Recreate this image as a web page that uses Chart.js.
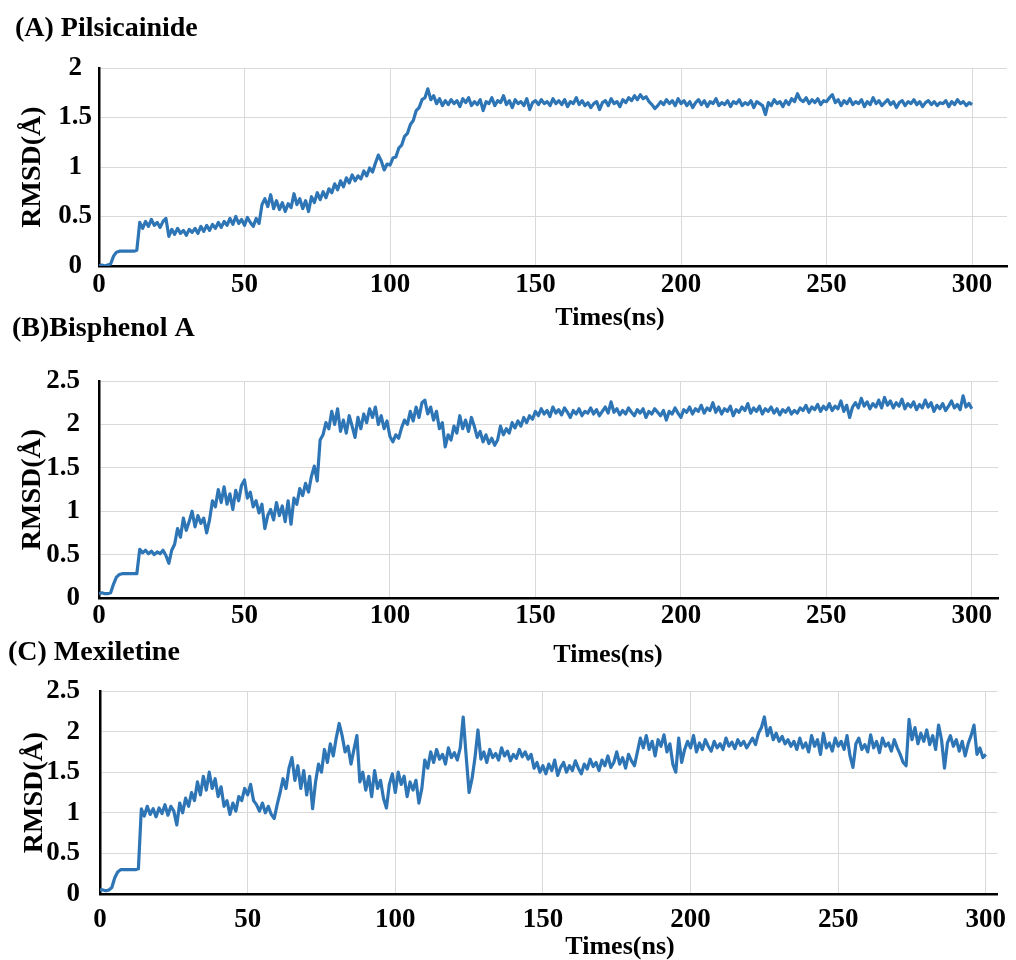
<!DOCTYPE html>
<html><head><meta charset="utf-8">
<script src="https://cdn.jsdelivr.net/npm/chart.js@4"></script>
<style>
html,body{margin:0;padding:0;background:#fff;width:1016px;height:960px;overflow:hidden;}
#wrap{position:relative;width:1016px;height:960px;background:#fff;}
canvas{position:absolute;left:0;}
</style></head><body>
<div id="wrap">
<canvas id="cA" width="1016" height="340" style="top:0px"></canvas>
<canvas id="cB" width="1016" height="390" style="top:290px"></canvas>
<canvas id="cC" width="1016" height="350" style="top:615px"></canvas>
</div>
<script>
// ---- data (time in ns, RMSD in Å) ----
const times = Array.from({length: 301}, (_, i) => i);
const xTickValues = [0, 50, 100, 150, 200, 250, 300];
const yTickValuesA = [0, 0.5, 1, 1.5, 2];
const yTickValuesBC = [0, 0.5, 1, 1.5, 2, 2.5];
const panelTitles = ['(A) Pilsicainide', '(B)Bisphenol A', '(C) Mexiletine'];
const xAxisTitle = 'Times(ns)';
const yAxisTitle = 'RMSD(Å)';

const rmsdA = [
0.00,0.01,0.00,0.01,0.02,0.10,0.14,0.15,0.15,0.15,
0.15,0.15,0.15,0.16,0.44,0.38,0.45,0.40,0.47,0.41,
0.44,0.39,0.45,0.48,0.30,0.37,0.32,0.38,0.33,0.36,
0.31,0.37,0.34,0.38,0.33,0.40,0.35,0.41,0.36,0.42,
0.38,0.44,0.39,0.45,0.41,0.48,0.42,0.50,0.43,0.47,
0.41,0.49,0.44,0.40,0.48,0.43,0.62,0.68,0.60,0.72,
0.58,0.66,0.57,0.64,0.55,0.63,0.59,0.73,0.62,0.68,
0.58,0.66,0.55,0.70,0.64,0.74,0.67,0.75,0.69,0.78,
0.74,0.83,0.77,0.86,0.80,0.89,0.84,0.92,0.86,0.91,
0.88,0.96,0.91,0.99,0.95,1.04,1.12,1.06,0.97,1.03,
1.02,1.09,1.10,1.19,1.22,1.31,1.34,1.43,1.47,1.57,
1.60,1.68,1.70,1.79,1.68,1.72,1.64,1.69,1.62,1.67,
1.63,1.68,1.64,1.67,1.61,1.69,1.65,1.70,1.62,1.66,
1.63,1.68,1.57,1.66,1.64,1.70,1.62,1.67,1.65,1.72,
1.63,1.67,1.60,1.68,1.64,1.66,1.62,1.69,1.58,1.65,
1.67,1.63,1.68,1.64,1.66,1.62,1.69,1.64,1.67,1.63,
1.68,1.61,1.66,1.64,1.70,1.63,1.67,1.62,1.65,1.60,
1.64,1.66,1.58,1.65,1.67,1.62,1.69,1.64,1.66,1.61,
1.68,1.65,1.70,1.67,1.72,1.68,1.73,1.69,1.71,1.66,
1.63,1.59,1.62,1.66,1.63,1.68,1.64,1.67,1.62,1.69,
1.64,1.67,1.62,1.66,1.60,1.65,1.68,1.63,1.67,1.61,
1.66,1.64,1.69,1.62,1.65,1.63,1.67,1.61,1.66,1.64,
1.68,1.62,1.65,1.63,1.67,1.60,1.66,1.64,1.62,1.53,
1.65,1.62,1.68,1.64,1.66,1.61,1.67,1.63,1.69,1.66,
1.74,1.68,1.66,1.70,1.64,1.68,1.65,1.69,1.63,1.67,
1.66,1.70,1.73,1.65,1.68,1.62,1.67,1.64,1.69,1.63,
1.66,1.64,1.68,1.61,1.66,1.63,1.70,1.64,1.67,1.62,
1.65,1.68,1.63,1.66,1.60,1.65,1.67,1.62,1.66,1.64,
1.68,1.63,1.66,1.61,1.65,1.67,1.63,1.66,1.62,1.65,
1.64,1.67,1.61,1.66,1.63,1.68,1.64,1.66,1.62,1.65,
1.63];

const rmsdB = [
0.05,0.06,0.05,0.05,0.06,0.16,0.24,0.27,0.28,0.28,
0.28,0.28,0.28,0.28,0.56,0.52,0.55,0.51,0.54,0.50,
0.53,0.51,0.55,0.49,0.40,0.55,0.62,0.80,0.70,0.92,
0.78,0.88,1.00,0.82,0.95,0.86,0.92,0.75,0.90,1.12,
1.05,1.25,1.10,1.28,1.08,1.20,1.02,1.24,1.12,1.30,
1.36,1.15,1.22,1.05,1.12,0.98,1.08,0.80,0.95,1.02,
0.90,1.10,0.95,1.06,0.88,1.12,0.85,1.15,1.08,1.26,
1.18,1.32,1.22,1.40,1.52,1.35,1.82,1.88,2.02,1.95,
2.15,2.00,2.18,1.92,2.05,1.90,2.10,1.98,1.85,2.08,
1.95,2.12,2.02,2.18,2.08,2.20,2.00,2.10,1.95,2.04,
1.86,1.80,1.88,1.84,1.96,2.05,2.00,2.15,2.04,2.20,
2.08,2.25,2.28,2.12,2.20,2.05,2.15,1.95,2.02,1.74,
1.88,1.82,1.98,1.90,2.10,1.95,2.05,1.92,2.08,1.98,
1.85,1.92,1.80,1.88,1.78,1.84,1.76,1.82,1.98,1.88,
1.95,1.90,2.02,1.96,2.04,1.98,2.08,2.02,2.10,2.06,
2.15,2.10,2.18,2.12,2.16,2.09,2.20,2.13,2.17,2.11,
2.19,2.14,2.08,2.16,2.12,2.18,2.10,2.15,2.13,2.19,
2.12,2.17,2.10,2.15,2.20,2.13,2.26,2.14,2.18,2.11,
2.16,2.12,2.19,2.14,2.10,2.17,2.13,2.18,2.08,2.15,
2.12,2.18,2.14,2.10,2.16,2.05,2.15,2.12,2.19,2.13,
2.08,2.17,2.14,2.20,2.12,2.18,2.15,2.22,2.13,2.19,
2.16,2.25,2.14,2.20,2.12,2.18,2.15,2.21,2.10,2.17,
2.14,2.20,2.16,2.24,2.13,2.19,2.15,2.21,2.12,2.18,
2.15,2.20,2.13,2.18,2.11,2.17,2.14,2.19,2.12,2.16,
2.13,2.19,2.16,2.22,2.14,2.20,2.17,2.23,2.15,2.21,
2.17,2.24,2.16,2.21,2.18,2.27,2.15,2.22,2.08,2.20,
2.25,2.19,2.30,2.21,2.26,2.18,2.24,2.20,2.28,2.19,
2.31,2.22,2.27,2.19,2.25,2.21,2.29,2.18,2.24,2.20,
2.26,2.17,2.23,2.19,2.28,2.20,2.25,2.15,2.22,2.18,
2.24,2.16,2.21,2.27,2.19,2.23,2.17,2.33,2.20,2.24,
2.18];

const rmsdC = [
0.05,0.05,0.04,0.05,0.08,0.20,0.27,0.30,0.30,0.30,
0.30,0.30,0.30,0.31,1.05,0.96,1.08,0.98,1.05,0.95,
1.06,0.99,1.10,0.97,1.08,1.02,0.85,1.12,1.00,1.18,
1.08,1.25,1.15,1.38,1.22,1.45,1.28,1.50,1.30,1.42,
1.20,1.32,1.08,1.15,0.98,1.12,1.02,1.20,1.15,1.30,
1.22,1.35,1.15,1.10,1.02,1.12,1.00,1.08,0.98,0.93,
1.10,1.25,1.42,1.30,1.55,1.68,1.40,1.58,1.30,1.52,
1.22,1.45,1.05,1.38,1.60,1.50,1.78,1.62,1.85,1.70,
1.92,2.10,1.95,1.75,1.82,1.60,1.78,1.95,1.38,1.50,
1.28,1.45,1.20,1.52,1.30,1.40,1.18,1.06,1.35,1.48,
1.25,1.50,1.35,1.45,1.20,1.38,1.28,1.40,1.12,1.30,
1.65,1.55,1.75,1.62,1.78,1.66,1.72,1.60,1.80,1.68,
1.74,1.65,1.80,2.18,1.70,1.25,1.42,1.68,2.02,1.66,
1.75,1.62,1.78,1.68,1.73,1.65,1.80,1.70,1.76,1.64,
1.72,1.67,1.78,1.69,1.75,1.66,1.72,1.55,1.62,1.50,
1.58,1.48,1.60,1.52,1.65,1.46,1.56,1.62,1.50,1.58,
1.52,1.64,1.55,1.48,1.60,1.54,1.66,1.57,1.62,1.52,
1.65,1.58,1.70,1.56,1.62,1.75,1.60,1.68,1.55,1.72,
1.64,1.58,1.75,1.92,1.80,1.95,1.78,1.88,1.70,1.90,
1.82,1.96,1.75,1.85,1.60,1.50,1.92,1.62,1.78,1.88,
1.80,1.95,1.75,1.86,1.78,1.90,1.82,1.76,1.88,1.80,
1.85,1.78,1.92,1.82,1.87,1.79,1.90,1.83,1.88,1.80,
1.86,1.92,1.84,1.98,2.05,2.18,1.95,2.05,1.90,1.98,
1.88,1.94,1.85,1.90,1.82,1.88,1.78,1.92,1.80,1.86,
1.75,1.95,1.82,1.90,1.72,1.98,1.80,1.86,1.76,1.92,
1.82,1.88,1.78,1.95,1.70,1.56,1.85,1.92,1.78,1.84,
1.75,1.96,1.80,1.88,1.74,1.92,1.82,1.86,1.76,1.90,
1.80,1.72,1.62,1.58,2.15,1.90,2.05,1.85,1.98,1.88,
2.02,1.84,1.95,1.78,2.08,1.90,1.55,1.86,1.95,1.82,
1.90,1.76,1.88,1.70,1.85,1.95,2.08,1.72,1.80,1.68,
1.72];

// ---- styling ----
const SERIF = "'Liberation Serif', 'Times New Roman', serif";
const LINE = '#2E75B6';
const GRID = '#d9d9d9';

const xTitlePlugin = {
  id: 'xTitle',
  afterDraw(chart, args, opts) {
    const ctx = chart.ctx;
    ctx.save();
    ctx.font = 'bold 26px ' + SERIF;
    ctx.fillStyle = '#000';
    ctx.textAlign = 'center';
    ctx.textBaseline = 'middle';
    ctx.fillText(opts.text, opts.x, opts.y);
    ctx.restore();
  }
};

function makePanel(id, c) {
  const tickFont = {family: SERIF, size: 27, weight: 'bold'};
  new Chart(document.getElementById(id), {
    type: 'line',
    data: {
      labels: times,
      datasets: [{data: c.values, borderColor: LINE, backgroundColor: LINE, borderWidth: 3.2,
                  borderJoinStyle: 'round', pointRadius: 0, pointHoverRadius: 0, fill: false, tension: 0}]
    },
    options: {
      responsive: false, animation: false, devicePixelRatio: 1,
      events: [],
      layout: {padding: {left: c.padLeft, right: c.padRight, top: 0, bottom: 0}},
      plugins: {
        legend: {display: false},
        tooltip: {enabled: false},
        title: {display: true, text: c.title, align: 'start', color: '#000',
                font: {family: SERIF, size: 28, weight: 'bold'},
                padding: {top: c.titleTop, bottom: c.titleBottom}},
        xTitle: {text: xAxisTitle, x: c.xTitleX, y: c.xTitleY}
      },
      scales: {
        x: {
          type: 'linear', min: 0, max: c.xMax,
          afterBuildTicks: s => { s.ticks = xTickValues.map(v => ({value: v})); },
          afterFit: s => { s.height = c.xAxisH; },
          grid: {color: GRID, lineWidth: 1, drawTicks: false},
          border: {display: true, color: '#000', width: 2.5},
          ticks: {color: '#000', font: tickFont, padding: c.xTickPad, maxRotation: 0,
                  autoSkip: false, callback: v => String(v)}
        },
        y: {
          type: 'linear', min: 0, max: c.yMax,
          afterBuildTicks: s => { s.ticks = c.yTicks.map(v => ({value: v})); },
          afterFit: s => { s.width = c.yAxisW; },
          grid: {color: GRID, lineWidth: 1, drawTicks: false},
          border: {display: true, color: '#000', width: 2.5},
          ticks: {color: '#000', font: tickFont, padding: c.yTickPad, crossAlign: c.yCross,
                  callback: v => String(v)},
          title: {display: true, text: yAxisTitle, color: '#000',
                  font: {family: SERIF, size: 28, weight: 'bold'},
                  padding: {top: c.yTitlePad, bottom: 0}}
        }
      }
    },
    plugins: [xTitlePlugin]
  });
}

makePanel('cA', {values: rmsdA, title: panelTitles[0], padLeft: 15, padRight: 9, xMax: 312,
  yMax: 2, yTicks: yTickValuesA, titleTop: 11.7, titleBottom: 22.7, xAxisH: 74, yAxisW: 84,
  xTickPad: 2.8, yTickPad: 7, yCross: 'center', yTitlePad: 0.7, xTitleX: 610, xTitleY: 318});
makePanel('cB', {values: rmsdB, title: panelTitles[1], padLeft: 12, padRight: 18, xMax: 309,
  yMax: 2.5, yTicks: yTickValuesBC, titleTop: 22.2, titleBottom: 35.2, xAxisH: 82, yAxisW: 87,
  xTickPad: 1.8, yTickPad: 19, yCross: 'near', yTitlePad: 3.7, xTitleX: 608, xTitleY: 365});
makePanel('cC', {values: rmsdC, title: panelTitles[2], padLeft: 8, padRight: 9, xMax: 304,
  yMax: 2.5, yTicks: yTickValuesBC, titleTop: 21.2, titleBottom: 21.2, xAxisH: 71, yAxisW: 92,
  xTickPad: 9.8, yTickPad: 20, yCross: 'near', yTitlePad: 10.2, xTitleX: 620, xTitleY: 332});
</script>
</body></html>
